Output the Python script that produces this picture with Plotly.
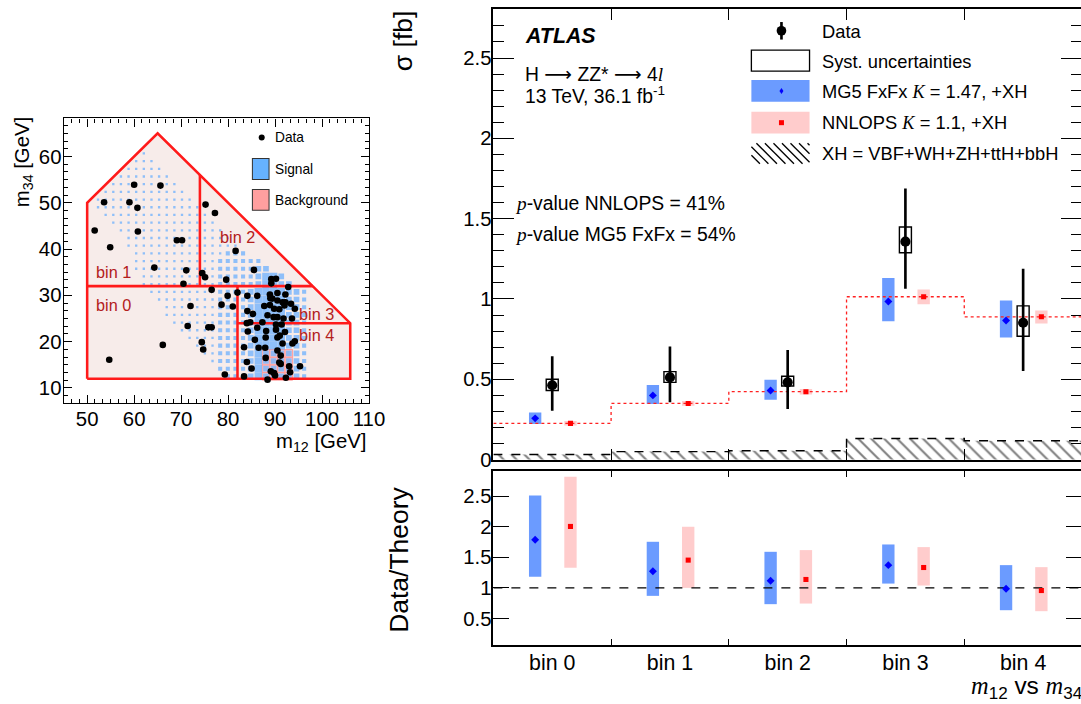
import plotly.graph_objects as go

# page geometry: drawing coordinates are given on a 1081 x 704 grid,
# the figure itself is rendered slightly larger and every pixel size follows S
REF_W, REF_H = 1081, 704
W, H = 1100, 716
S = W / REF_W

SANS = "Liberation Sans, Arial, Helvetica, sans-serif"
SERIF_SPAN = '<span style="font-family:Liberation Serif, Times New Roman, serif"><i>{}</i></span>'
ARROW = '<span style="font-family:DejaVu Sans">⟶</span>'

# ---------------- differential cross section, bins of m12 vs m34 ----------------
bin_labels = ["bin 0", "bin 1", "bin 2", "bin 3", "bin 4"]

data_sigma   = [0.463, 0.512, 0.481, 1.357, 0.852]
data_tot_up  = [0.643, 0.704, 0.683, 1.687, 1.188]
data_tot_dn  = [0.305, 0.357, 0.315, 1.064, 0.552]
data_syst_up = [0.500, 0.548, 0.519, 1.448, 0.957]
data_syst_dn = [0.430, 0.481, 0.459, 1.288, 0.768]

mg5_sigma = [0.257, 0.400, 0.430, 0.984, 0.866]
mg5_up    = [0.294, 0.465, 0.498, 1.130, 0.990]
mg5_dn    = [0.222, 0.347, 0.373, 0.862, 0.760]

nnlops_sigma = [0.226, 0.350, 0.423, 1.014, 0.889]
nnlops_up    = [0.240, 0.365, 0.440, 1.059, 0.928]
nnlops_dn    = [0.212, 0.335, 0.405, 0.968, 0.847]

xh_sigma = [0.032, 0.050, 0.055, 0.132, 0.118]

ratio_mg5       = [1.787, 1.273, 1.115, 1.372, 0.984]
ratio_mg5_up    = [2.513, 1.754, 1.590, 1.710, 1.372]
ratio_mg5_dn    = [1.180, 0.869, 0.733, 1.070, 0.634]
ratio_nnlops    = [2.005, 1.454, 1.137, 1.333, 0.956]
ratio_nnlops_up = [2.820, 2.000, 1.618, 1.667, 1.339]
ratio_nnlops_dn = [1.328, 1.000, 0.743, 1.038, 0.618]

# ---------------- inset: m12 / m34 plane ----------------
region_m12 = [50, 50, 65, 106, 106, 50]
region_m34 = [12, 50, 65, 24, 12, 12]
bin_edges = [  # (m12_a, m34_a, m12_b, m34_b)
    (50, 32, 98, 32),
    (74, 32, 74, 56),
    (82, 12, 82, 32),
    (82, 24, 106, 24),
]
bin_text_m12 = [55.6, 55.6, 82.0, 98.9, 98.9]
bin_text_m34 = [28.0, 35.0, 42.6, 26.0, 21.4]

event_m12 = [60.0, 65.6, 53.6, 59.0, 60.7, 51.6, 54.9, 60.8, 69.1, 70.2, 75.2, 77.2,
             81.6, 85.5, 64.3, 71.1, 70.5, 74.5, 75.1, 79.6, 76.5, 72.0, 78.6, 79.9,
             81.0, 82.0, 71.4, 75.8, 76.5, 74.4, 74.7, 66.1, 54.7, 79.3, 83.4,
             84.1, 86.2, 84.1, 85.3, 84.0, 84.7, 84.2, 83.4, 84.0, 85.0, 86.2, 86.5,
             87.9, 88.0, 88.0, 87.7, 88.4, 87.3, 89.2, 90.2, 89.2, 90.5, 89.4, 88.9,
             90.5, 91.6, 92.2, 89.8, 90.9, 92.0, 89.7, 90.5, 91.8, 90.2, 91.4, 90.2,
             92.1, 90.5, 91.6, 93.7, 94.2, 92.8, 92.2, 93.4, 94.2, 95.3, 93.0, 93.2,
             92.3, 89.8, 90.0, 88.4, 90.9, 88.9, 91.2, 90.5, 91.0, 89.1, 91.2, 85.7,
             88.1, 93.6, 89.0]
event_m34 = [53.9, 53.7, 50.1, 50.1, 48.9, 44.0, 40.4, 43.8, 41.9, 41.9, 49.6, 47.8,
             39.6, 35.5, 36.0, 35.4, 32.5, 34.8, 33.9, 33.4, 31.2, 27.7, 28.0, 29.9,
             27.6, 30.6, 23.4, 23.1, 23.1, 19.9, 18.3, 19.3, 16.1, 12.9, 12.5,
             29.9, 29.9, 26.6, 26.0, 24.0, 24.2, 22.2, 18.8, 15.6, 14.2, 23.0, 18.7,
             18.7, 20.9, 16.5, 27.7, 25.7, 24.2, 33.5, 33.6, 32.6, 30.5, 29.3, 27.9,
             28.9, 28.5, 28.5, 27.1, 27.0, 27.8, 25.3, 25.3, 25.0, 23.7, 23.7, 22.6,
             22.1, 20.9, 19.6, 19.6, 20.1, 31.8, 30.2, 28.2, 27.1, 14.7, 14.7, 13.4,
             12.2, 13.2, 12.7, 11.8, 15.5, 30.2, 17.0, 18.1, 21.3, 13.6, 15.2, 20.4,
             22.3, 25.0, 29.4]

# 2D signal histogram: cell grid and occupied cells per row (col_from, col_to, size level)
grid_m12_lo, grid_m12_step, grid_col0 = 45.0, 1.625, 3
grid_m34_lo, grid_m34_step = 6.7, 1.66
signal_rows = {
    32: [(7, 7, 1)],
    31: [(6, 8, 1)],
    30: [(5, 9, 1)],
    29: [(4, 10, 1)],
    28: [(3, 11, 1)],
    27: [(2, 12, 1)],
    26: [(1, 13, 1)],
    25: [(1, 14, 1)],
    24: [(2, 15, 1)],
    23: [(3, 16, 1)],
    22: [(4, 17, 1)],
    21: [(5, 18, 1)],
    20: [(5, 19, 1)],
    19: [(6, 17, 1), (18, 20, 2)],
    18: [(6, 16, 1), (17, 22, 2)],
    17: [(6, 16, 1), (17, 21, 2), (22, 23, 3)],
    16: [(7, 16, 1), (17, 21, 2), (22, 22, 3), (23, 24, 4), (25, 25, 3)],
    15: [(7, 16, 1), (17, 21, 2), (22, 22, 3), (23, 24, 4), (25, 26, 3)],
    14: [(8, 16, 1), (17, 20, 2), (21, 21, 3), (22, 25, 4), (26, 27, 3), (28, 28, 2)],
    13: [(9, 16, 1), (17, 20, 2), (21, 21, 3), (22, 25, 4), (26, 27, 3), (28, 28, 2)],
    12: [(10, 16, 1), (17, 20, 2), (21, 21, 3), (22, 25, 4), (26, 27, 3), (28, 28, 2)],
    11: [(10, 16, 1), (17, 20, 2), (21, 21, 3), (22, 25, 4), (26, 27, 3), (28, 28, 2)],
    10: [(11, 16, 1), (17, 20, 2), (21, 21, 3), (22, 25, 4), (26, 27, 3), (28, 28, 2)],
    9:  [(12, 16, 1), (17, 20, 2), (21, 21, 3), (22, 25, 4), (26, 27, 3), (28, 28, 2)],
    8:  [(13, 16, 1), (17, 20, 2), (21, 21, 3), (22, 25, 4), (26, 27, 3), (28, 28, 2)],
    7:  [(14, 16, 1), (17, 20, 2), (21, 21, 3), (22, 25, 4), (26, 27, 3), (28, 28, 2)],
    6:  [(15, 16, 1), (17, 20, 2), (21, 21, 3), (22, 22, 4), (23, 27, 3), (28, 28, 2)],
    5:  [(16, 16, 1), (17, 20, 2), (21, 21, 3), (22, 22, 4), (23, 27, 3), (28, 28, 2)],
    4:  [(17, 20, 2), (21, 21, 3), (22, 22, 4), (23, 27, 3), (28, 28, 2)],
    3:  [(18, 20, 2), (21, 21, 3), (22, 22, 4), (23, 27, 3), (28, 28, 2)],
}
background_rows = {3: (23, 26), 4: (23, 26), 5: (23, 26), 6: (23, 26)}
level_size = {1: 2.3, 2: 4.0, 3: 5.6, 4: 7.4}

# ---------------- colours ----------------
MG5_BLUE = "#6b9bff"
NNLO_PINK = "#ffcccc"
SIG_BLUE = "#62adff"
BIN_RED = "#b3201c"

# panel geometry (grid pixels)
MAIN_L, MAIN_R = 492, 1079
TOP_T, TOP_B = 9, 459
RAT_T, RAT_B = 470, 644
INS_L, INS_R, INS_T, INS_B = 63.5, 368, 118.3, 402.7


def fx(p):
    return p / REF_W


def fy(p):
    return 1 - p / REF_H


def s(v):
    return v * S


OFF_MG5, OFF_DATA, OFF_NNLO = 0.355, 0.5, 0.655
BAND_W, SYST_W = 0.105, 0.102
n = len(bin_labels)
left = list(range(n))

fig = go.Figure()

# ===== upper panel =====
fig.add_trace(go.Bar(
    x=[i + 0.5 for i in left], y=xh_sigma, width=1.0,
    marker=dict(color="white", line=dict(width=0),
                pattern=dict(shape="\\", fgcolor="black", bgcolor="white", size=s(9), solidity=0.22)),
    xaxis="x", yaxis="y", showlegend=False, hoverinfo="skip"))
fig.add_trace(go.Bar(
    x=[i + OFF_MG5 for i in left], base=mg5_dn,
    y=[u - d for u, d in zip(mg5_up, mg5_dn)], width=BAND_W,
    marker=dict(color=MG5_BLUE, line=dict(width=0)),
    xaxis="x", yaxis="y", showlegend=False))
fig.add_trace(go.Bar(
    x=[i + OFF_NNLO for i in left], base=nnlops_dn,
    y=[u - d for u, d in zip(nnlops_up, nnlops_dn)], width=BAND_W,
    marker=dict(color=NNLO_PINK, line=dict(width=0)),
    xaxis="x", yaxis="y", showlegend=False))
fig.add_trace(go.Bar(
    x=[i + OFF_DATA for i in left], base=data_syst_dn,
    y=[u - d for u, d in zip(data_syst_up, data_syst_dn)], width=SYST_W,
    marker=dict(color="rgba(0,0,0,0)", line=dict(color="black", width=s(1.4))),
    xaxis="x", yaxis="y", showlegend=False))

edges = list(range(n + 1))
fig.add_trace(go.Scatter(
    x=edges, y=xh_sigma + [xh_sigma[-1]], mode="lines",
    line=dict(shape="hv", dash="dash", color="black", width=s(1.4)),
    xaxis="x", yaxis="y", showlegend=False))
fig.add_trace(go.Scatter(
    x=edges, y=nnlops_sigma + [nnlops_sigma[-1]], mode="lines",
    line=dict(shape="hv", dash="dot", color="#ff2020", width=s(1.3)),
    xaxis="x", yaxis="y", showlegend=False))
fig.add_trace(go.Scatter(
    x=[i + OFF_MG5 for i in left], y=mg5_sigma, mode="markers",
    marker=dict(symbol="diamond", size=s(6), color="#0000ff"),
    xaxis="x", yaxis="y", showlegend=False))
fig.add_trace(go.Scatter(
    x=[i + OFF_NNLO for i in left], y=nnlops_sigma, mode="markers",
    marker=dict(symbol="square", size=s(5), color="#ff0000"),
    xaxis="x", yaxis="y", showlegend=False))
fig.add_trace(go.Scatter(
    x=[i + OFF_DATA for i in left], y=data_sigma, mode="markers",
    marker=dict(symbol="circle", size=s(10), color="black"),
    error_y=dict(type="data", symmetric=False,
                 array=[u - v for u, v in zip(data_tot_up, data_sigma)],
                 arrayminus=[v - d for v, d in zip(data_sigma, data_tot_dn)],
                 thickness=s(2.6), width=0, color="black"),
    xaxis="x", yaxis="y", showlegend=False))

# ===== ratio panel =====
fig.add_trace(go.Bar(
    x=[i + OFF_MG5 for i in left], base=ratio_mg5_dn,
    y=[u - d for u, d in zip(ratio_mg5_up, ratio_mg5_dn)], width=BAND_W,
    marker=dict(color=MG5_BLUE, line=dict(width=0)),
    xaxis="x2", yaxis="y2", showlegend=False))
fig.add_trace(go.Bar(
    x=[i + OFF_NNLO for i in left], base=ratio_nnlops_dn,
    y=[u - d for u, d in zip(ratio_nnlops_up, ratio_nnlops_dn)], width=BAND_W,
    marker=dict(color=NNLO_PINK, line=dict(width=0)),
    xaxis="x2", yaxis="y2", showlegend=False))
fig.add_trace(go.Scatter(
    x=[0, n], y=[1, 1], mode="lines", line=dict(dash="dash", color="black", width=s(1.2)),
    xaxis="x2", yaxis="y2", showlegend=False))
fig.add_trace(go.Scatter(
    x=[i + OFF_MG5 for i in left], y=ratio_mg5, mode="markers",
    marker=dict(symbol="diamond", size=s(6), color="#0000ff"),
    xaxis="x2", yaxis="y2", showlegend=False))
fig.add_trace(go.Scatter(
    x=[i + OFF_NNLO for i in left], y=ratio_nnlops, mode="markers",
    marker=dict(symbol="square", size=s(5), color="#ff0000"),
    xaxis="x2", yaxis="y2", showlegend=False))

# ===== inset =====
fig.add_trace(go.Scatter(
    x=region_m12, y=region_m34, mode="lines", fill="toself", fillcolor="#f7ecea",
    line=dict(width=0), xaxis="x3", yaxis="y3", showlegend=False))

bg_x, bg_y = [], []
for j, (c0, c1) in background_rows.items():
    for c in range(c0, c1 + 1):
        bg_x.append(grid_m12_lo + grid_m12_step * (c + grid_col0 + 0.5))
        bg_y.append(grid_m34_lo + grid_m34_step * (j + 0.5))
fig.add_trace(go.Scatter(
    x=bg_x, y=bg_y, mode="markers",
    marker=dict(symbol="square", size=s(7.4), color="#ffd0d0", line=dict(color="#ff9c9c", width=1)),
    xaxis="x3", yaxis="y3", showlegend=False))

sig_x, sig_y, sig_s = [], [], []
for j, segs in signal_rows.items():
    for c0, c1, lvl in segs:
        for c in range(c0, c1 + 1):
            sig_x.append(grid_m12_lo + grid_m12_step * (c + grid_col0 + 0.5))
            sig_y.append(grid_m34_lo + grid_m34_step * (j + 0.5))
            sig_s.append(s(level_size[lvl]))
fig.add_trace(go.Scatter(
    x=sig_x, y=sig_y, mode="markers",
    marker=dict(symbol="square", size=sig_s, color=SIG_BLUE, line=dict(width=0)),
    xaxis="x3", yaxis="y3", showlegend=False))

fig.add_trace(go.Scatter(
    x=region_m12, y=region_m34, mode="lines", line=dict(color="#ff1a1a", width=s(2.5)),
    xaxis="x3", yaxis="y3", showlegend=False))
for a, b, c, d in bin_edges:
    fig.add_trace(go.Scatter(
        x=[a, c], y=[b, d], mode="lines", line=dict(color="#ff1a1a", width=s(2.5)),
        xaxis="x3", yaxis="y3", showlegend=False))

fig.add_trace(go.Scatter(
    x=event_m12, y=event_m34, mode="markers",
    marker=dict(symbol="circle", size=s(6.5), color="black"),
    xaxis="x3", yaxis="y3", showlegend=False))

# ---------------- axes ----------------
xdom = [fx(MAIN_L), fx(MAIN_R)]
common = dict(showline=True, linecolor="black", linewidth=s(1.5), mirror="allticks",
              showgrid=False, zeroline=False, tickcolor="black", tickwidth=s(1.3))
tfont = dict(size=s(20), family=SANS, color="black")

fig.update_layout(
    xaxis=dict(domain=xdom, range=[0, n], anchor="y", ticks="inside", ticklen=s(11),
               tickvals=[1, 2, 3, 4], showticklabels=False, **common),
    yaxis=dict(domain=[fy(TOP_B), fy(TOP_T)], range=[0, 2.805], anchor="x",
               ticks="inside", ticklen=s(21), tick0=0, dtick=0.5,
               tickfont=tfont, ticklabelstandoff=-4,
               minor=dict(ticks="inside", ticklen=s(11), dtick=0.1, tick0=0,
                          tickcolor="black", tickwidth=s(1.3)),
               **common),
    xaxis2=dict(domain=xdom, range=[0, n], anchor="y2", ticks="",
                tickvals=[i + 0.5 for i in left], ticktext=bin_labels,
                tickfont=dict(size=s(21), family=SANS, color="black"), ticklabelstandoff=-2,
                minor=dict(ticks="inside", ticklen=s(6), tickvals=[1, 2, 3, 4],
                           tickcolor="black", tickwidth=s(1.3)),
                **common),
    yaxis2=dict(domain=[fy(RAT_B), fy(RAT_T)], range=[0.066, 2.918], anchor="x2",
                ticks="inside", ticklen=s(16), tickvals=[0.5, 1, 1.5, 2, 2.5],
                ticktext=["0.5", "1", "1.5", "2", "2.5"], ticklabelstandoff=-4,
                tickfont=tfont, **common),
    xaxis3=dict(domain=[fx(INS_L), fx(INS_R)], range=[45, 110], anchor="y3",
                ticks="inside", ticklen=s(8), tickvals=[50, 60, 70, 80, 90, 100, 110],
                tickfont=tfont, ticklabelstandoff=-3,
                minor=dict(ticks="inside", ticklen=s(4), tick0=45, dtick=5 / 3,
                           tickcolor="black", tickwidth=1),
                showline=True, linecolor="black", linewidth=s(1.2), mirror="allticks",
                showgrid=False, zeroline=False, tickcolor="black", tickwidth=1),
    yaxis3=dict(domain=[fy(INS_B), fy(INS_T)], range=[6.7, 68.2], anchor="x3",
                ticks="inside", ticklen=s(8), tickvals=[10, 20, 30, 40, 50, 60],
                tickfont=tfont, ticklabelstandoff=-3,
                minor=dict(ticks="inside", ticklen=s(4), tick0=10, dtick=5 / 3,
                           tickcolor="black", tickwidth=1),
                showline=True, linecolor="black", linewidth=s(1.2), mirror="allticks",
                showgrid=False, zeroline=False, tickcolor="black", tickwidth=1),
    barmode="overlay",
    width=W, height=H,
    margin=dict(l=0, r=0, t=0, b=0),
    paper_bgcolor="white", plot_bgcolor="white",
    font=dict(family=SANS, color="black"),
)

# ---------------- text ----------------
ann = []


def text(x, y, txt, size, xanchor="left", yanchor="middle", angle=0, color="black", ref=("paper", "paper")):
    ann.append(dict(x=x, y=y, xref=ref[0], yref=ref[1], text=txt, showarrow=False,
                    xanchor=xanchor, yanchor=yanchor, textangle=angle,
                    font=dict(size=s(size), family=SANS, color=color)))


text(fx(402), fy(9), "σ [fb]", 26, xanchor="center", yanchor="top", angle=-90)
text(fx(398), fy(484), "Data/Theory", 26, xanchor="center", yanchor="top", angle=-90)
text(fx(1081), fy(704), SERIF_SPAN.format("m") + "<sub>12</sub> vs " + SERIF_SPAN.format("m") + "<sub>34</sub>",
     24, xanchor="right", yanchor="bottom")

text(fx(522), fy(36), "<b><i>ATLAS</i></b>", 21)
text(fx(522), fy(74), "H " + ARROW + " ZZ* " + ARROW + " 4" + SERIF_SPAN.format("l"), 19)
text(fx(522), fy(95), "13 TeV, 36.1 fb<sup>-1</sup>", 19)
text(fx(512), fy(203), SERIF_SPAN.format("p") + "-value NNLOPS = 41%", 19)
text(fx(512), fy(234), SERIF_SPAN.format("p") + "-value MG5 FxFx = 54%", 19)

# legend entries
LEG_TX = 818
text(fx(LEG_TX), fy(31), "Data", 18)
text(fx(LEG_TX), fy(61), "Syst. uncertainties", 18)
text(fx(LEG_TX), fy(91), "MG5 FxFx " + SERIF_SPAN.format("K") + " = 1.47, +XH", 18)
text(fx(LEG_TX), fy(122), "NNLOPS " + SERIF_SPAN.format("K") + " = 1.1, +XH", 18)
text(fx(LEG_TX), fy(153), "XH = VBF+WH+ZH+ttH+bbH", 18)

# inset texts
for lab, bx, by in zip(bin_labels, bin_text_m12, bin_text_m34):
    text(bx, by, lab, 16, xanchor="center", color=BIN_RED, ref=("x3", "y3"))
text(fx(23), fy(115), "m<sub>34</sub> [GeV]", 20, xanchor="center", yanchor="top", angle=-90)
text(fx(367), fy(442), "m<sub>12</sub> [GeV]", 20, xanchor="right")
text(fx(272), fy(137), "Data", 13.5)
text(fx(272), fy(169), "Signal", 13.5)
text(fx(272), fy(200), "Background", 13.5)

# ---------------- legend swatches ----------------
shapes = []


def rect(x0, y0, x1, y1, fill="rgba(0,0,0,0)", line="rgba(0,0,0,0)", lw=0):
    shapes.append(dict(type="rect", xref="paper", yref="paper",
                       x0=fx(x0), x1=fx(x1), y0=fy(y1), y1=fy(y0),
                       fillcolor=fill, line=dict(color=line, width=s(lw))))


def seg(x0, y0, x1, y1, color="black", lw=1.0):
    shapes.append(dict(type="line", xref="paper", yref="paper",
                       x0=fx(x0), x1=fx(x1), y0=fy(y0), y1=fy(y1),
                       line=dict(color=color, width=s(lw))))


# data symbol
seg(779.3, 22, 779.3, 39.5, lw=2.6)
shapes.append(dict(type="circle", xref="paper", yref="paper",
                   x0=fx(774.5), x1=fx(784.1), y0=fy(35.5), y1=fy(25.9),
                   fillcolor="black", line=dict(width=0)))
rect(749.3, 50, 807.3, 71, line="black", lw=1.3)
rect(749.3, 80, 807.3, 101.7, fill=MG5_BLUE)
shapes.append(dict(type="path", xref="paper", yref="paper",
                   path=f"M {fx(779.3)} {fy(87.8)} L {fx(781.3)} {fy(90.8)} L {fx(779.3)} {fy(93.8)} L {fx(777.3)} {fy(90.8)} Z",
                   fillcolor="#0000ff", line=dict(width=0)))
rect(749.3, 111.7, 807.3, 133.3, fill=NNLO_PINK)
rect(776.8, 120.0, 781.8, 125.0, fill="#ff0000")

# hatched swatch
hx0, hy0, hx1, hy1 = 749.3, 143, 807.3, 163.5
hh = hy1 - hy0
d = -hh
while d < hx1 - hx0:
    sx, sy, ex, ey = hx0 + d, hy0, hx0 + d + hh, hy1
    if sx < hx0:
        sy, sx = hy0 + (hx0 - sx), hx0
    if ex > hx1:
        ey, ex = hy1 - (ex - hx1), hx1
    seg(sx, sy, ex, ey, lw=1.3)
    d += 8.5

# inset legend
shapes.append(dict(type="circle", xref="paper", yref="paper",
                   x0=fx(258), x1=fx(264), y0=fy(140.3), y1=fy(134.3),
                   fillcolor="black", line=dict(width=0)))
rect(251.7, 158.3, 268.3, 179.3, fill="#66b2ff", line="#333333", lw=1)
rect(251.7, 189.3, 268.3, 210, fill="#ff9f9f", line="#333333", lw=1)

fig.update_layout(annotations=ann, shapes=shapes)

fig.write_html("out.html")
